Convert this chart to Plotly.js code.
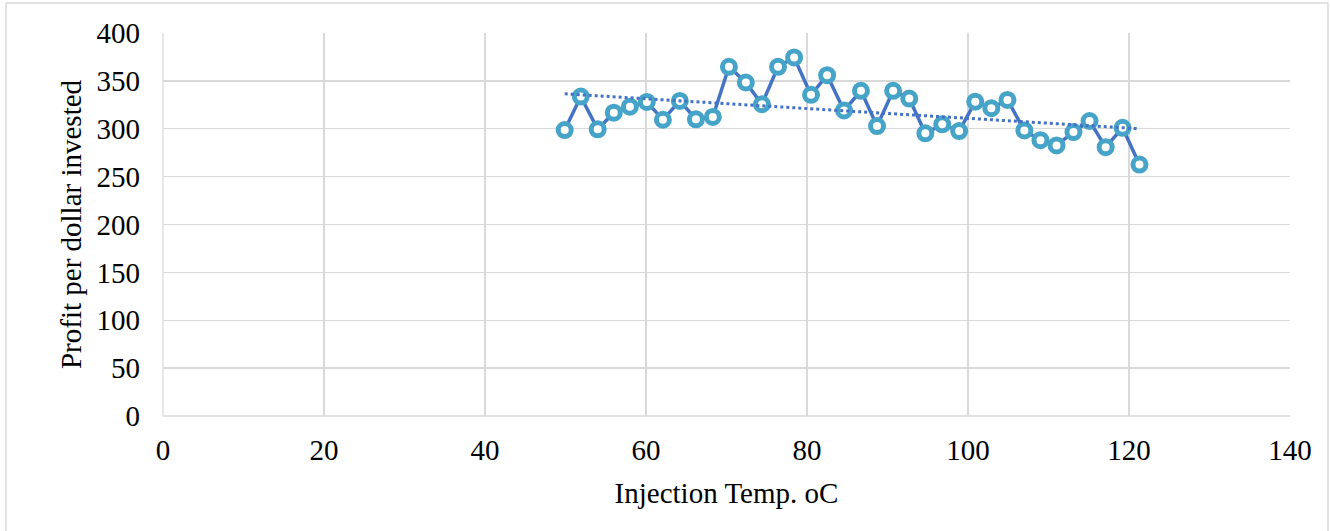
<!DOCTYPE html>
<html>
<head>
<meta charset="utf-8">
<script src="https://cdn.plot.ly/plotly-3.0.1.min.js"></script>
<style>html,body{margin:0;padding:0;background:#fff;}#chart{width:1330px;height:531px;}</style>
</head>
<body>
<div id="chart"></div>
<script>
var injectionTemp = [49.9, 51.9, 54.0, 56.0, 58.0, 60.1, 62.1, 64.2, 66.2, 68.3, 70.3, 72.4, 74.4, 76.4, 78.4, 80.5, 82.5, 84.6, 86.7, 88.7, 90.7, 92.7, 94.7, 96.8, 98.9, 100.9, 102.9, 104.9, 107.0, 109.0, 111.0, 113.1, 115.1, 117.1, 119.2, 121.3];
var profitPerDollar = [298.6, 333.6, 299.4, 316.8, 323.1, 328.0, 309.4, 329.1, 309.9, 312.3, 364.7, 348.3, 325.6, 364.7, 374.5, 335.4, 356.0, 319.1, 339.6, 302.8, 339.6, 331.5, 295.2, 304.6, 297.6, 328.3, 321.4, 330.1, 298.3, 288.1, 282.6, 296.5, 308.1, 280.8, 301.0, 262.6];
var xTickVals = [0, 20, 40, 60, 80, 100, 120, 140];
var yTickVals = [0, 50, 100, 150, 200, 250, 300, 350, 400];

// Linear trendline (least squares) from the data arrays
var n = injectionTemp.length, sx = 0, sy = 0, sxx = 0, sxy = 0;
for (var i = 0; i < n; i++) { sx += injectionTemp[i]; sy += profitPerDollar[i]; sxx += injectionTemp[i]*injectionTemp[i]; sxy += injectionTemp[i]*profitPerDollar[i]; }
var slope = (n*sxy - sx*sy) / (n*sxx - sx*sx);
var intercept = (sy - slope*sx) / n;
var trendX = [injectionTemp[0], injectionTemp[n-1]];
var trendY = trendX.map(function(x){ return intercept + slope*x; });

var font = {family: '"Liberation Serif", "Times New Roman", serif', color: '#000', size: 29};

var data = [
  {
    x: injectionTemp, y: profitPerDollar, type: 'scatter', mode: 'lines+markers',
    line: {color: '#4472C4', width: 3.5},
    marker: {symbol: 'circle', size: 13, color: '#ffffff', line: {color: '#46A4C8', width: 5}},
    hoverinfo: 'x+y'
  },
  {
    x: trendX, y: trendY, type: 'scatter', mode: 'lines',
    line: {color: '#4472C4', width: 3, dash: 'dot'},
    hoverinfo: 'skip'
  }
];

var layout = {
  width: 1330, height: 531,
  margin: {l: 163, r: 40, t: 33, b: 115},
  paper_bgcolor: '#fff', plot_bgcolor: '#fff',
  showlegend: false,
  font: font,
  xaxis: {
    range: [0, 140], tickvals: xTickVals, ticktext: xTickVals.map(String),
    showgrid: true, gridcolor: '#D9D9D9', gridwidth: 1.3,
    zeroline: false, showline: false, ticks: '', ticklabelstandoff: 14,
    tickfont: font,
    title: {text: 'Injection Temp. oC', font: font, standoff: 17}
  },
  yaxis: {
    range: [0, 400], tickvals: yTickVals, ticktext: yTickVals.map(String),
    showgrid: true, gridcolor: '#D9D9D9', gridwidth: 1.3,
    zeroline: false, showline: false, ticks: '', ticklabelstandoff: 22,
    tickfont: font,
    title: {text: 'Profit per dollar invested', font: font, standoff: 6}
  },
  shapes: [
    {type: 'rect', xref: 'paper', yref: 'paper',
     x0: (6-163)/1127, x1: (1328-163)/1127, y0: -0.5, y1: (416-3)/383,
     line: {color: '#D9D9D9', width: 1.5}, fillcolor: 'rgba(0,0,0,0)', layer: 'below'},
    {type: 'line', xref: 'paper', yref: 'paper', x0: 0, x1: 1, y0: 0, y1: 0,
     line: {color: '#D9D9D9', width: 1.3}, layer: 'below'},
    {type: 'line', xref: 'paper', yref: 'paper', x0: 0, x1: 0, y0: 0, y1: 1,
     line: {color: '#D9D9D9', width: 1.3}, layer: 'below'}
  ]
};

Plotly.newPlot('chart', data, layout, {displayModeBar: false, staticPlot: true});
</script>
</body>
</html>
